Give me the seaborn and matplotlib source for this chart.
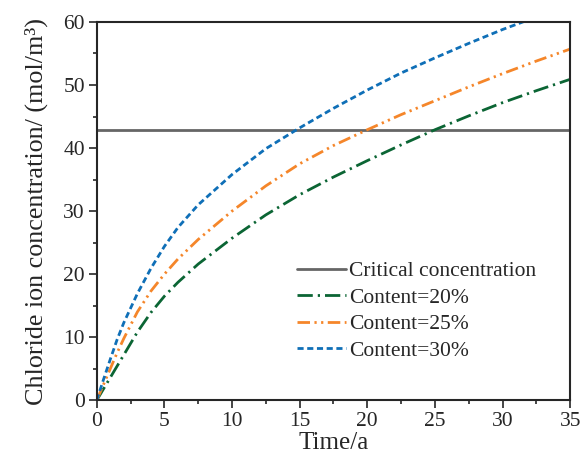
import pandas as pd
import seaborn as sns
import matplotlib.pyplot as plt
from matplotlib.ticker import MultipleLocator

# values
time = [0, 0.5, 1, 1.5, 2, 3, 4, 5, 6, 7.5, 10, 12.5, 15, 17.5, 20, 22.5, 25, 27.5, 30, 32.5, 35]
c20 = [0, 1.8, 3.6, 5.4, 7.2, 10.8, 13.9, 16.5, 18.7, 21.6, 25.7, 29.4, 32.6, 35.4, 38.0,
       40.5, 42.9, 45.1, 47.2, 49.1, 50.9]
c25 = [0, 2.5, 5.0, 7.5, 9.8, 14.0, 17.3, 20.0, 22.4, 25.5, 30.0, 34.0, 37.5, 40.4, 42.9,
       45.3, 47.5, 49.7, 51.8, 53.8, 55.7]
c30 = [0, 3.3, 6.5, 9.6, 12.3, 16.9, 20.9, 24.4, 27.4, 31.0, 35.8, 39.9, 43.2, 46.3, 49.2,
       51.9, 54.3, 56.6, 58.8, 60.8, 62.7]
critical = 42.9

FONT = 'Liberation Serif'
sns.set_style("ticks")
plt.rcParams['font.family'] = FONT

df = pd.DataFrame({'time': time, 'c20': c20, 'c25': c25, 'c30': c30})

fig = plt.figure(figsize=(5.83, 4.67), dpi=100)
ax = fig.add_axes([0.166, 0.143, 0.812, 0.81])

ax.axhline(critical, color='#666666', lw=2, label='Critical concentration')
sns.lineplot(data=df, x='time', y='c20', ax=ax, color='#0b6534', lw=2,
             label='Content=20%')
sns.lineplot(data=df, x='time', y='c25', ax=ax, color='#f5862a', lw=2,
             label='Content=25%')
sns.lineplot(data=df, x='time', y='c30', ax=ax, color='#0f6fb7', lw=2,
             label='Content=30%')
lines = ax.get_lines()
lines[1].set_dashes([5.5, 1.8, 0.8, 1.8])
lines[2].set_dashes([4.5, 1.6, 0.8, 1.6, 0.8, 1.6])
lines[3].set_dashes([2.2, 1.3])

ax.set_xlim(0, 35)
ax.set_ylim(0, 60)
ax.xaxis.set_major_locator(MultipleLocator(5))
ax.xaxis.set_minor_locator(MultipleLocator(2.5))
ax.yaxis.set_major_locator(MultipleLocator(10))
ax.yaxis.set_minor_locator(MultipleLocator(5))
ax.tick_params(which='major', length=5.5, width=1.2, labelsize=15.5, direction='out',
               labelfontfamily=FONT, pad=3)
ax.tick_params(which='minor', length=3, width=1.2, direction='out')
for s in ax.spines.values():
    s.set_linewidth(1.5)

ax.set_xlabel("Time/a", fontsize=18, family=FONT, labelpad=1)
ax.set_ylabel("Chloride ion concentration/ (mol/m³)", fontsize=18.8, family=FONT, labelpad=11)

leg = ax.legend(handles=lines, loc='center left', bbox_to_anchor=(0.404, 0.236), frameon=False,
                prop={'family': FONT, 'size': 15.5}, handlelength=2.3, handletextpad=0.15,
                labelspacing=0.3, borderaxespad=0)

fig.savefig("out.png", dpi=100)
